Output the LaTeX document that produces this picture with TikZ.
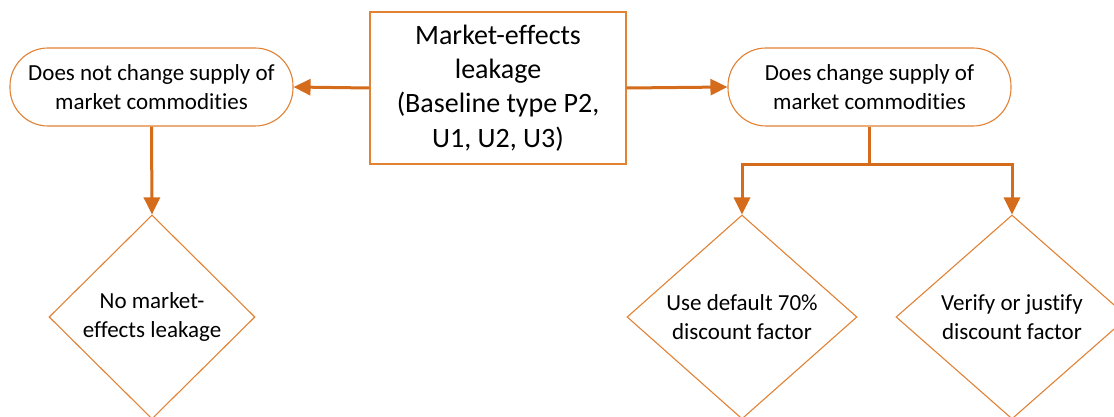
\documentclass[tikz,border=0pt]{standalone}
\usepackage{fontspec}
\setmainfont{Carlito}[Ligatures=NoCommon]
\usetikzlibrary{shapes.geometric,arrows.meta,calc}
\definecolor{conncol}{RGB}{212,108,28}
\definecolor{shapecol}{RGB}{226,130,52}
\tikzset{
  boxshape/.style={draw=shapecol, line width=1.1pt, fill=white, inner sep=0pt, align=center},
  sidefont/.style={font=\fontsize{23}{29}\selectfont},
  mainbox/.style={boxshape, rectangle, minimum width=256pt, minimum height=152pt, font=\fontsize{28}{34.3}\selectfont},
  pillbox/.style={boxshape, sidefont, rectangle, rounded corners=38pt, minimum width=283pt, minimum height=78pt},
  diabox/.style={boxshape, sidefont, diamond, minimum height=204pt},
  conn/.style={draw=conncol, line width=3pt, -{Triangle[length=17pt,width=16pt]}},
  connline/.style={draw=conncol, line width=3pt}
}
\begin{document}
\begin{tikzpicture}[x=1pt,y=-1pt]
\useasboundingbox[fill=white] (0,0) rectangle (1114,417);
\node[mainbox] (cbox) at (498,88) {Market-effects\\leakage\\(Baseline type P2,\\U1, U2, U3)};
\node[pillbox] (lbox) at (151.5,87) {Does not change supply of\\market commodities};
\node[pillbox] (rbox) at (869.5,87) {Does change supply of\\market commodities};
\node[diabox, minimum width=206pt] (ldia) at (152,317) {No market-\\effects leakage};
\node[diabox, minimum width=230pt] (d1) at (742,317) {Use default 70\%\\discount factor};
\node[diabox, minimum width=232pt] (d2) at (1012,317) {Verify or justify\\discount factor};
\draw[conn] (cbox.west) -- (lbox.east);
\draw[conn] (cbox.east) -- (rbox.west);
\draw[conn] (lbox.south) -- (ldia.north);
\coordinate (br) at ($(rbox.south)+(0,38)$);
\draw[connline] (rbox.south) -- (br);
\draw[conn] (br) -| (d1.north);
\draw[conn] (br) -| (d2.north);
\end{tikzpicture}
\end{document}
